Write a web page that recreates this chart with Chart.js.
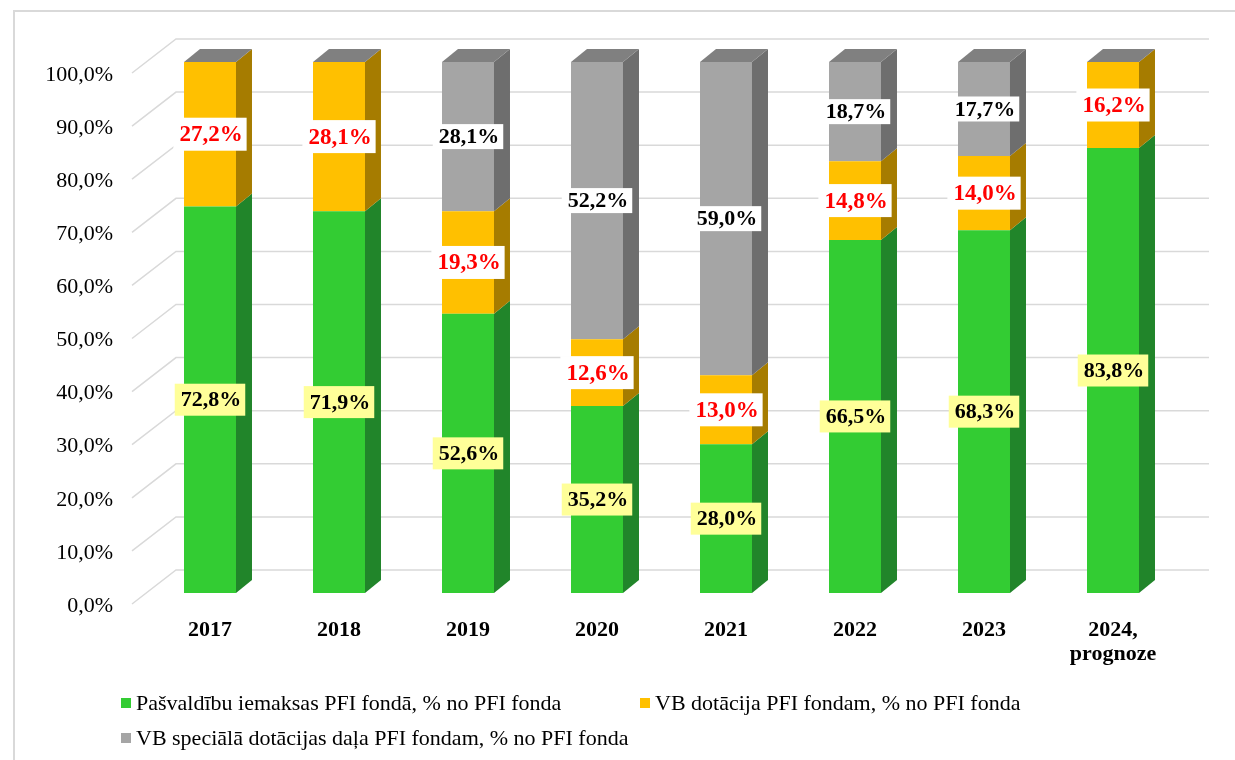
<!DOCTYPE html>
<html>
<head>
<meta charset="utf-8">
<script src="https://cdn.jsdelivr.net/npm/chart.js@4.4.1/dist/chart.umd.min.js"></script>
<style>
  html, body { margin: 0; padding: 0; background: #fff; }
  #wrap { width: 1235px; height: 760px; }
</style>
</head>
<body>
<div id="wrap"><canvas id="chart" width="1235" height="760"></canvas></div>
<script>
// values
const years = ['2017', '2018', '2019', '2020', '2021', '2022', '2023', ['2024,', 'prognoze']];
const municipal = [72.8, 71.9, 52.6, 35.2, 28.0, 66.5, 68.3, 83.8];
const stateGrant = [27.2, 28.1, 19.3, 12.6, 13.0, 14.8, 14.0, 16.2];
const specialGrant = [0, 0, 28.1, 52.2, 59.0, 18.7, 17.7, 0];
const seriesNames = [
  'Pašvaldību iemaksas PFI fondā, % no PFI fonda',
  'VB dotācija PFI fondam, % no PFI fonda',
  'VB speciālā dotācijas daļa PFI fondam, % no PFI fonda'
];

const FONT = 'Liberation Serif';
const front = ['#33cc33', '#ffc000', '#a5a5a5'];
const sides = ['#21852a', '#a67c00', '#6e6e6e'];
const topColor = '#808080';
// label look per series: background, text colour, font size, box height
const labelStyle = [
  { bg: '#ffff99', color: '#000', size: 22, h: 32 },
  { bg: '#ffffff', color: '#ff0000', size: 23, h: 33 },
  { bg: '#ffffff', color: '#000', size: 22, h: 25 }
];
const DX = 16, DY = 13;

const fmt = v => v.toFixed(1).replace('.', ',') + '%';

const fake3d = {
  id: 'fake3d',
  beforeDraw(chart) {
    const { ctx, chartArea: a, scales: { y } } = chart;
    ctx.save();
    // outer frame
    ctx.strokeStyle = '#d9d9d9';
    ctx.lineWidth = 2;
    ctx.beginPath();
    ctx.moveTo(14, 760); ctx.lineTo(14, 11); ctx.lineTo(1235, 11);
    ctx.stroke();
    // side wall + back wall grid
    ctx.lineWidth = 1.5;
    y.ticks.forEach(t => {
      const py = y.getPixelForValue(t.value);
      ctx.beginPath();
      ctx.moveTo(a.left - 13.5, py + 11);
      ctx.lineTo(a.left + 30.5, py - 23);
      ctx.lineTo(a.right + 31.5, py - 23);
      ctx.stroke();
    });
    ctx.restore();
  },
  afterDatasetsDraw(chart) {
    const ctx = chart.ctx;
    ctx.save();
    chart.data.labels.forEach((_, i) => {
      let top = Infinity, xl = 0, xr = 0;
      chart.data.datasets.forEach((ds, di) => {
        const el = chart.getDatasetMeta(di).data[i];
        xl = el.x - el.width / 2;
        xr = el.x + el.width / 2;
        const yt = Math.min(el.y, el.base), yb = Math.max(el.y, el.base);
        if (yb - yt > 0.1) {
          ctx.fillStyle = sides[di];
          ctx.beginPath();
          ctx.moveTo(xr, yb); ctx.lineTo(xr, yt);
          ctx.lineTo(xr + DX, yt - DY); ctx.lineTo(xr + DX, yb - DY);
          ctx.closePath(); ctx.fill();
        }
        top = Math.min(top, yt);
      });
      ctx.fillStyle = topColor;
      ctx.beginPath();
      ctx.moveTo(xl, top); ctx.lineTo(xr, top);
      ctx.lineTo(xr + DX, top - DY); ctx.lineTo(xl + DX, top - DY);
      ctx.closePath(); ctx.fill();
    });
    ctx.restore();
  },
  afterDraw(chart) {
    const ctx = chart.ctx;
    ctx.save();
    ctx.textAlign = 'center';
    ctx.textBaseline = 'middle';
    // data labels
    chart.data.datasets.forEach((ds, di) => {
      const st = labelStyle[di];
      ctx.font = 'bold ' + st.size + 'px "' + FONT + '"';
      chart.getDatasetMeta(di).data.forEach((el, i) => {
        const v = ds.data[i];
        if (!v) return;
        const txt = fmt(v);
        const w = ctx.measureText(txt).width + 10;
        const cy = (el.y + el.base) / 2;
        ctx.fillStyle = st.bg;
        ctx.fillRect(el.x - w / 2, cy - st.h / 2, w, st.h);
        ctx.fillStyle = st.color;
        ctx.fillText(txt, el.x + 1, cy + 1);
      });
    });
    // legend
    const spots = [[121, 703], [640, 703], [121, 738]];
    ctx.textAlign = 'left';
    ctx.font = '22px "' + FONT + '"';
    chart.data.datasets.forEach((ds, di) => {
      const [x, y] = spots[di];
      ctx.fillStyle = front[di];
      ctx.fillRect(x, y - 5, 10, 10);
      ctx.fillStyle = '#000';
      ctx.fillText(ds.label, x + 15, y + 1);
    });
    ctx.restore();
  }
};

new Chart(document.getElementById('chart'), {
  type: 'bar',
  data: {
    labels: years,
    datasets: [
      { label: seriesNames[0], data: municipal, backgroundColor: front[0] },
      { label: seriesNames[1], data: stateGrant, backgroundColor: front[1] },
      { label: seriesNames[2], data: specialGrant, backgroundColor: front[2] }
    ]
  },
  options: {
    responsive: false,
    animation: false,
    devicePixelRatio: 1,
    barPercentage: 0.403,
    categoryPercentage: 1,
    layout: { padding: { top: 62, right: 57.5, left: 0, bottom: 0 } },
    plugins: { legend: { display: false }, tooltip: { enabled: false } },
    scales: {
      x: {
        stacked: true,
        grid: { display: false, drawTicks: false },
        border: { display: false },
        ticks: {
          font: { family: FONT, size: 22, weight: 'bold', lineHeight: 1.1 },
          color: '#000', padding: 25, maxRotation: 0, autoSkip: false
        },
        afterFit(s) { s.height = 167; }
      },
      y: {
        stacked: true,
        min: 0, max: 100,
        grid: { display: false, drawTicks: false },
        border: { display: false },
        ticks: {
          stepSize: 10,
          callback: v => fmt(v),
          font: { family: FONT, size: 22 },
          color: '#000', padding: 32.5, labelOffset: 13
        },
        afterFit(s) { s.width = 145.5; }
      }
    }
  },
  plugins: [fake3d]
});
</script>
</body>
</html>
